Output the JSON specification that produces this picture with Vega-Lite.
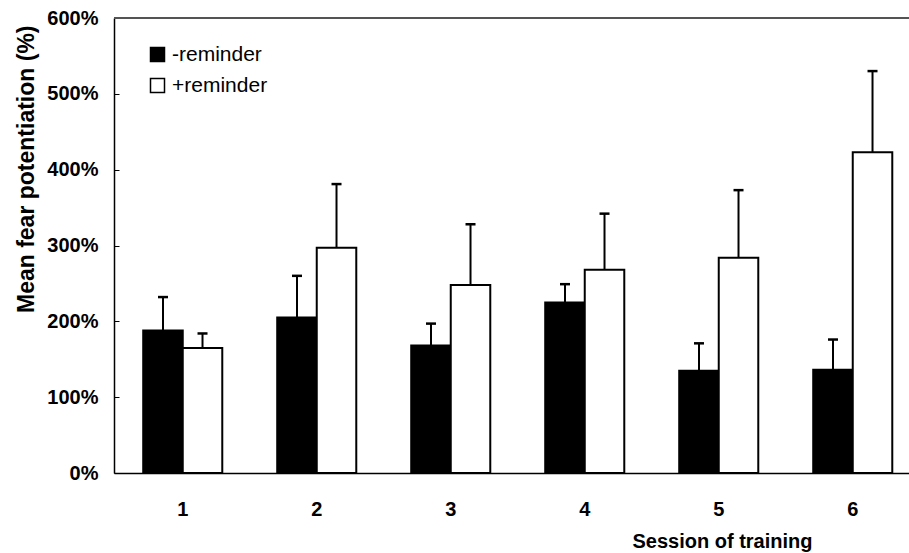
{
  "$schema": "https://vega.github.io/schema/vega-lite/v6.json",
  "width": 795,
  "height": 455,
  "autosize": {"type": "none"},
  "padding": {"left": 114, "top": 18, "right": 0, "bottom": 80},
  "background": "white",
  "config": {"view": {"stroke": null}, "font": "Liberation Sans"},
  "data": {
    "values": [
      {"session": "1", "group": "-reminder", "value": 188, "upper": 232},
      {"session": "1", "group": "+reminder", "value": 165, "upper": 184},
      {"session": "2", "group": "-reminder", "value": 205, "upper": 260},
      {"session": "2", "group": "+reminder", "value": 297, "upper": 381},
      {"session": "3", "group": "-reminder", "value": 168, "upper": 197},
      {"session": "3", "group": "+reminder", "value": 248, "upper": 328},
      {"session": "4", "group": "-reminder", "value": 225, "upper": 249},
      {"session": "4", "group": "+reminder", "value": 268, "upper": 342},
      {"session": "5", "group": "-reminder", "value": 135, "upper": 171},
      {"session": "5", "group": "+reminder", "value": 284, "upper": 373},
      {"session": "6", "group": "-reminder", "value": 136, "upper": 176},
      {"session": "6", "group": "+reminder", "value": 423, "upper": 530}
    ]
  },
  "layer": [
    {
      "mark": {"type": "rule", "color": "#555", "strokeWidth": 1},
      "encoding": {
        "y": {"datum": 600, "type": "quantitative", "title": "Mean fear potentiation (%)"}
      }
    },
    {
      "mark": {"type": "bar", "stroke": "black", "strokeWidth": 2},
      "encoding": {
        "x": {
          "field": "session",
          "type": "ordinal",
          "scale": {"paddingInner": 0.41, "paddingOuter": 0.1714, "align": 0.636},
          "axis": {
            "labelAngle": 0,
            "ticks": false,
            "domainColor": "black",
            "domainWidth": 1.5,
            "labelPadding": 26,
            "labelFontSize": 20,
            "labelFontWeight": "bold",
            "labelColor": "black",
            "title": "Session of training",
            "titleFontSize": 20,
            "titleFontWeight": "bold",
            "titleColor": "black",
            "titleX": 698,
            "titleY": 74,
            "titleAlign": "right",
            "titleBaseline": "alphabetic"
          }
        },
        "xOffset": {
          "field": "group",
          "type": "nominal",
          "sort": ["-reminder", "+reminder"],
          "scale": {"paddingInner": 0, "paddingOuter": 0}
        },
        "y": {
          "field": "value",
          "type": "quantitative",
          "title": "Mean fear potentiation (%)",
          "scale": {"domain": [0, 600], "nice": false},
          "axis": {
            "values": [0, 100, 200, 300, 400, 500, 600],
            "labelExpr": "datum.value + '%'",
            "grid": false,
            "tickSize": -5,
            "tickColor": "black",
            "labelPadding": 21,
            "domainColor": "black",
            "domainWidth": 1.5,
            "labelFontSize": 20,
            "labelFontWeight": "bold",
            "labelColor": "black",
            "titleFontSize": 23,
            "titleFontWeight": "bold",
            "titleColor": "black",
            "titleAngle": -90,
            "titleX": -88,
            "titleY": 7,
            "titleAlign": "right",
            "titleBaseline": "middle"
          }
        },
        "fill": {
          "field": "group",
          "type": "nominal",
          "sort": ["-reminder", "+reminder"],
          "scale": {"range": ["black", "white"]},
          "legend": {
            "title": null,
            "orient": "none",
            "legendX": 33,
            "legendY": 26,
            "symbolType": "square",
            "symbolSize": 196,
            "symbolStrokeColor": "black",
            "symbolStrokeWidth": 1.5,
            "labelFontSize": 21,
            "labelColor": "black",
            "labelOffset": 4,
            "rowPadding": 9,
            "padding": 0
          }
        }
      }
    },
    {
      "mark": {"type": "rule", "color": "black", "strokeWidth": 2},
      "encoding": {
        "x": {"field": "session", "type": "ordinal"},
        "xOffset": {"field": "group", "type": "nominal", "sort": ["-reminder", "+reminder"]},
        "y": {"field": "value", "type": "quantitative", "title": "Mean fear potentiation (%)"},
        "y2": {"field": "upper"}
      }
    },
    {
      "mark": {"type": "tick", "orient": "horizontal", "size": 10, "thickness": 2.5, "color": "black", "opacity": 1},
      "encoding": {
        "x": {"field": "session", "type": "ordinal"},
        "xOffset": {"field": "group", "type": "nominal", "sort": ["-reminder", "+reminder"]},
        "y": {"field": "upper", "type": "quantitative", "title": "Mean fear potentiation (%)"}
      }
    }
  ]
}
